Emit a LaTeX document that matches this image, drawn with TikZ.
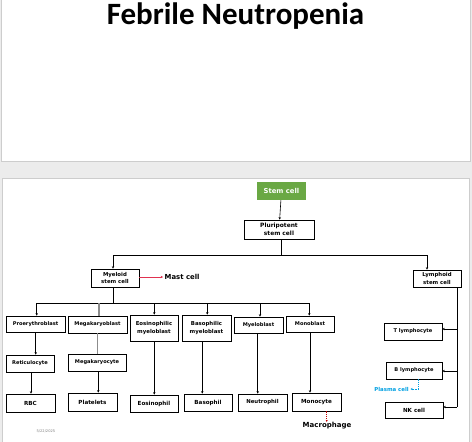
\documentclass[tikz,border=0pt]{standalone}
\usepackage{fontspec}
\setmainfont{DejaVu Sans}
\newfontfamily\titlefont{Carlito}
\usetikzlibrary{arrows.meta}
\definecolor{pagebg}{RGB}{236,236,236}
\definecolor{slideedge}{RGB}{205,205,205}
\definecolor{stemgreen}{RGB}{106,168,68}
\definecolor{mastred}{RGB}{224,50,80}
\definecolor{macred}{RGB}{192,0,0}
\definecolor{plasmablue}{RGB}{0,160,226}
\definecolor{megagray}{RGB}{140,140,140}
\tikzset{
  cellbox/.style={draw=black, line width=0.8pt, fill=white, inner sep=0pt,
    align=center, font=\fontsize{5.1}{7.8}\selectfont\bfseries},
  twoline/.style={font=\fontsize{5.4}{7.6}\selectfont\bfseries},
  arr/.style={draw=black, line width=0.6pt, -{Stealth[length=2.4pt,width=2.4pt]}},
  bus/.style={draw=black, line width=0.8pt},
}
\newcommand{\cbox}[7][]{\node[cellbox, minimum width=#5pt, minimum height=#6pt, #1] (#2) at (#3,#4) {#7};}
\begin{document}
\begin{tikzpicture}[x=1pt,y=-1pt]
\useasboundingbox (0,0) rectangle (472,442);
\fill[pagebg] (0,0) rectangle (472,442);
% slides
\draw[slideedge, fill=white, line width=0.6pt] (1.5,-2) rectangle (470,161);
\draw[slideedge, fill=white, line width=0.6pt] (2,178) rectangle (469,446);
% title
\node[anchor=base, inner sep=0pt, font=\titlefont\fontsize{31}{31}\selectfont\bfseries] (title) at (235.5,24) {Febrile Neutropenia};
% top
\node[fill=stemgreen, text=white, inner sep=0pt, minimum width=49pt, minimum height=18pt,
  font=\fontsize{6.8}{8}\selectfont\bfseries] (stem) at (281.5,191) {Stem cell};
\cbox[font=\fontsize{5.9}{7.6}\selectfont\bfseries]{pluri}{279}{229.5}{70}{19}{Pluripotent\\stem cell}
\cbox[twoline]{myeloid}{115}{278}{48}{18}{Myeloid\\stem cell}
\cbox[twoline]{lymphoid}{437}{278.5}{48}{17}{Lymphoid\\stem cell}
% row 1
\cbox{prox}{35.5}{324}{59}{16}{Proerythroblast}
\cbox{megab}{97.5}{324.5}{59}{17}{Megakaryoblast}
\cbox[twoline]{eosm}{154}{328}{48}{26}{Eosinophilic\\myeloblast}
\cbox[twoline]{basm}{206.5}{328}{49}{26}{Basophilic\\myeloblast}
\cbox{myelob}{258.5}{325}{49}{16}{Myeloblast}
\cbox{monob}{310}{324}{48}{16}{Monoblast}
% row 2
\cbox{retic}{30}{363.5}{48}{17}{Reticulocyte}
\cbox{megac}{97}{362.5}{58}{17}{Megakaryocyte}
% row 3
\cbox[font=\fontsize{5.6}{7}\selectfont\bfseries]{rbc}{30.5}{403}{49}{18}{RBC}
\cbox[font=\fontsize{5.6}{7}\selectfont\bfseries]{plate}{92.5}{402}{49}{18}{Platelets}
\cbox[font=\fontsize{5.6}{7}\selectfont\bfseries]{eos}{154}{403.5}{48}{17}{Eosinophil}
\cbox[font=\fontsize{5.6}{7}\selectfont\bfseries]{baso}{208}{402.5}{48}{17}{Basophil}
\cbox[font=\fontsize{5.4}{7}\selectfont\bfseries]{neut}{262.5}{402.5}{49}{17}{Neutrophil}
\cbox[font=\fontsize{5.6}{7}\selectfont\bfseries]{mono}{316.5}{402}{49}{18}{Monocyte}
% lymphoid children
\cbox{tly}{413}{331.5}{58}{17}{T lymphocyte}
\cbox{bly}{414}{370.5}{56}{17}{B lymphocyte}
\cbox[font=\fontsize{5.6}{7}\selectfont\bfseries]{nk}{414}{410}{58}{16}{NK cell}
% free texts
\node[anchor=west, inner sep=0pt, font=\fontsize{6.9}{7}\selectfont\bfseries] (mast) at (164.5,277) {Mast cell};
\node[inner sep=0pt, font=\fontsize{7}{8}\selectfont\bfseries] (macro) at (327,425.5) {Macrophage};
\node[anchor=east, inner sep=0pt, text=plasmablue, font=\fontsize{5.4}{6}\selectfont\bfseries] (plasma) at (409,389) {Plasma cell};
\node[anchor=west, inner sep=0pt, text=gray, font=\fontsize{3.6}{4}\selectfont] (date) at (36.5,431) {5/22/2025};
% connectors top
\draw[arr] (stem) -- (pluri);
\coordinate (b1) at (281.5,255);
\coordinate (b1l) at (113,255);
\coordinate (b1r) at (427,255);
\draw[bus] (b1 |- pluri.south) -- (b1);
\draw[bus] (b1l) -- (b1r);
\draw[arr] (b1l) -- (b1l |- myeloid.north);
\draw[arr] (b1r) -- (b1r |- lymphoid.north);
\draw[mastred, line width=0.8pt, -{Stealth[length=2.4pt,width=2.4pt]}] (myeloid.east |- 0,277) -- ([xshift=-1.5pt]mast.west);
% myeloid bus
\coordinate (b2) at (113,303);
\coordinate (b2l) at (36.7,303);
\coordinate (b2r) at (309.3,303);
\draw[bus] (b2 |- myeloid.south) -- (b2);
\draw[bus] (b2l) -- (b2r);
\foreach \xx/\nn in {36.7/prox,154.3/eosm,207.3/basm,260/myelob,309.3/monob}{
  \draw[arr] (\xx,303) -- (\xx,0 |- \nn.north);
}
\draw[megagray, line width=1.4pt] (99,303) -- (99,0 |- megab.north);
% lineages
\coordinate (c1) at (35.7,0);
\draw[arr] (c1 |- prox.south) -- (c1 |- retic.north);
\coordinate (c2) at (31,0);
\draw[arr] (c2 |- retic.south) -- (c2 |- rbc.north);
\coordinate (c3) at (97.7,0);
\draw[megagray, line width=1.4pt] (c3 |- megab.south) -- (c3 |- megac.north);
\coordinate (c4) at (98.3,0);
\draw[arr] (c4 |- megac.south) -- (c4 |- plate.north);
\coordinate (c5) at (154.3,0);
\draw[arr] (c5 |- eosm.south) -- (c5 |- eos.north);
\coordinate (c6) at (202.3,0);
\draw[arr] (c6 |- basm.south) -- (c6 |- baso.north);
\coordinate (c7) at (257.7,0);
\draw[arr] (c7 |- myelob.south) -- (c7 |- neut.north);
\coordinate (c8) at (310,0);
\draw[arr] (c8 |- monob.south) -- (c8 |- mono.north);
% lymphoid
\coordinate (lv) at (457,0);
\draw[bus] (lv |- lymphoid.south) -- (lv |- 0,407);
\draw[arr] (lv |- 0,329) -- (tly.east |- 0,329);
\draw[arr] (lv |- 0,371) -- (bly.east |- 0,371);
\draw[arr] (lv |- 0,407) -- (nk.east |- 0,407);
% plasma & macrophage
\coordinate (pl) at (418,389);
\draw[plasmablue, line width=0.5pt, dash pattern=on 1.2pt off 1pt, -{Stealth[length=2pt,width=2pt]}] (pl |- bly.south) -- (pl) -- ([xshift=1.5pt]plasma.east);
\coordinate (mc) at (326.7,0);
\draw[macred, line width=0.6pt, dash pattern=on 1.2pt off 1pt, -{Stealth[length=2pt,width=2pt]}] (mc |- mono.south) -- (mc |- macro.north);
\end{tikzpicture}
\end{document}
